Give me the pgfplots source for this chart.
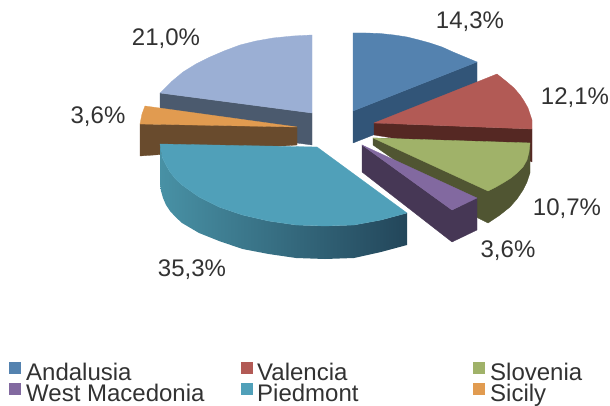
\documentclass[border=0pt]{standalone}
\usepackage{fontspec}
\setmainfont{Liberation Sans}
\usepackage{pgfplots}
\pgfplotsset{compat=1.18}
\definecolor{blT}{RGB}{84,130,175}\definecolor{blS}{RGB}{50,85,120}
\definecolor{reT}{RGB}{178,90,85}\definecolor{reS}{RGB}{85,40,35}
\definecolor{grT}{RGB}{160,178,105}\definecolor{grS}{RGB}{80,85,50}
\definecolor{puT}{RGB}{130,105,160}\definecolor{puS}{RGB}{70,55,85}
\definecolor{teT}{RGB}{80,160,185}\definecolor{teL}{RGB}{72,145,165}\definecolor{teM}{RGB}{60,120,140}\definecolor{teR}{RGB}{35,70,90}
\definecolor{orT}{RGB}{225,155,80}\definecolor{orS}{RGB}{105,75,45}
\definecolor{slT}{RGB}{155,175,212}\definecolor{slS}{RGB}{75,90,110}
\definecolor{txt}{RGB}{50,50,50}
\tikzset{lab/.style={text=txt,inner sep=0pt,font=\fontsize{24}{24}\selectfont}}
\begin{document}
\begin{tikzpicture}
\begin{axis}[
  scale only axis, width=610pt, height=406pt,
  xmin=0, xmax=610, ymin=0, ymax=406, y dir=reverse,
  axis line style={draw=none}, ticks=none, clip=false,
]
% 21,0% slice
\addplot[mark=none,fill=slS,draw=slS,line width=.3pt] coordinates {(160,93)(312,113)(312,145)(160,125)} --cycle;
\addplot[mark=none,fill=slT,draw=slT,line width=.3pt] coordinates {(312,35)(293,36)(273,38)(256,41)(240,45)(224,51)(210,57)(196,64)(183,72)(171,82)(160,93)(312,113)} --cycle;
% Sicily
\addplot[mark=none,fill=orS,draw=orS,line width=.3pt] coordinates {(140,124)(297,127)(297,145)(140,156)} --cycle;
\addplot[mark=none,fill=orT,draw=orT,line width=.3pt] coordinates {(145,106)(297,127)(140,124)(142,114)} --cycle;
% Andalusia
\addplot[mark=none,fill=blS,draw=blS,line width=.3pt] coordinates {(353,111)(477,62)(477,94)(353,143)} --cycle;
\addplot[mark=none,fill=blT,draw=blT,line width=.3pt] coordinates {(353,33)(366,33)(380,33.5)(394,35)(407,37)(419,40)(430,43)(442,47)(453,52)(465,57)(477,62)(353,111)} --cycle;
% Valencia
\addplot[mark=none,fill=reS,draw=reS,line width=.3pt] coordinates {(374,123)(532,129)(532,143)(532,162)(528,160)(374,135)} --cycle;
\addplot[mark=none,fill=reT,draw=reT,line width=.3pt] coordinates {(374,123)(497,74)(502,78)(507,82)(514,88)(520,95)(524,101)(528,108)(530,114)(532,120)(532,129)} --cycle;
% Slovenia
\addplot[mark=none,fill=grS,draw=grS,line width=.3pt] coordinates {(373,138)(530,143)(530,173)(527,182)(523,190)(517,199)(510,207)(500,215)(488,223)(478,218)(373,145)} --cycle;
\addplot[mark=none,fill=grT,draw=grT,line width=.3pt] coordinates {(373,138)(530,143)(529,152)(527,160)(523,167)(517,173)(511,178)(503,183)(496,187)(488,191)} --cycle;
% West Macedonia
\addplot[mark=none,fill=puS,draw=puS,line width=.3pt] coordinates {(362,145)(452,210)(477,198)(477,230)(452,242)(362,172)} --cycle;
\addplot[mark=none,fill=puT,draw=puT,line width=.3pt] coordinates {(362,145)(477,198)(452,210)} --cycle;
% Piedmont
\addplot[mark=none,draw=none,left color=teL,middle color=teM,right color=teR] coordinates {(160,144)(161,151)(162.5,158)(166,165)(170,172)(175.5,179)(182,185)(199,197)(219,207)(242.5,215)(268.6,221)(296,225)(325,226)(354,225)(381,220)(407,213)(407,245)(381,252)(354,258)(325,259)(296,258)(268.6,254)(242.5,249)(219,241)(199,233)(182,223)(175.5,217)(170,211)(166,205)(163,198)(161,191)(160,184)} --cycle;
\addplot[mark=none,fill=teT,draw=teT,line width=.3pt] coordinates {(160,144)(317,147)(407,213)(381,220)(354,225)(325,226)(296,225)(268.6,221)(242.5,215)(219,207)(199,197)(182,185)(175.5,179)(170,172)(166,165)(162.5,158)(161,151)} --cycle;
% value labels
\node[lab] at (axis cs:470,22) {14,3\%};
\node[lab] at (axis cs:575,98) {12,1\%};
\node[lab] at (axis cs:567,209) {10,7\%};
\node[lab] at (axis cs:508,251) {3,6\%};
\node[lab] at (axis cs:192,270) {35,3\%};
\node[lab] at (axis cs:98,117) {3,6\%};
\node[lab] at (axis cs:166,39) {21,0\%};
% legend keys
\addplot[only marks,mark=square*,mark size=5.5pt,color=blT] coordinates {(14.5,368)};
\addplot[only marks,mark=square*,mark size=5.5pt,color=reT] coordinates {(247,368)};
\addplot[only marks,mark=square*,mark size=5.5pt,color=grT] coordinates {(479,368)};
\addplot[only marks,mark=square*,mark size=5.5pt,color=puT] coordinates {(14.5,389)};
\addplot[only marks,mark=square*,mark size=5.5pt,color=teT] coordinates {(247,389)};
\addplot[only marks,mark=square*,mark size=5.5pt,color=orT] coordinates {(479,389)};
\node[lab,anchor=base west] at (axis cs:26,380) {Andalusia};
\node[lab,anchor=base west] at (axis cs:257,380) {Valencia};
\node[lab,anchor=base west] at (axis cs:490,380) {Slovenia};
\node[lab,anchor=base west] at (axis cs:26,401) {West Macedonia};
\node[lab,anchor=base west] at (axis cs:257,401) {Piedmont};
\node[lab,anchor=base west] at (axis cs:490,401) {Sicily};
\end{axis}
\end{tikzpicture}
\end{document}
